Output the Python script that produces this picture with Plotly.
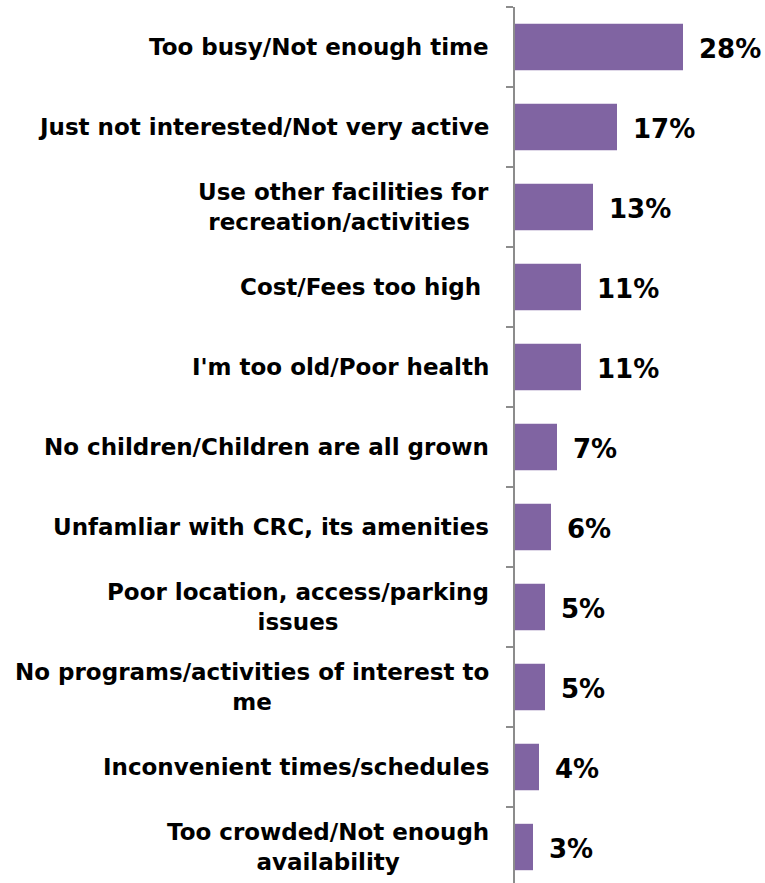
import plotly.graph_objects as go

# Reasons for not using the community recreation center
reasons = [
    "Too busy/Not enough time",
    "Just not interested/Not very active",
    "Use other facilities for<br>recreation/activities ",
    "Cost/Fees too high ",
    "I'm too old/Poor health",
    "No children/Children are all grown",
    "Unfamliar with CRC, its amenities",
    "Poor location, access/parking<br>issues",
    "No programs/activities of interest to<br>me",
    "Inconvenient times/schedules",
    "Too crowded/Not enough<br>availability",
]
shares = [28, 17, 13, 11, 11, 7, 6, 5, 5, 4, 3]
share_labels = ["28%", "17%", "13%", "11%", "11%", "7%", "6%", "5%", "5%", "4%", "3%"]

FONT = "DejaVu Sans"
BAR = "#8064A2"
AXIS = "#8c8c8c"

fig = go.Figure(
    go.Bar(
        x=shares,
        y=list(range(len(reasons))),
        orientation="h",
        marker=dict(color=BAR, line=dict(width=0)),
        width=0.58,
        hoverinfo="skip",
    )
)

# value labels to the right of each bar
for i, (v, t) in enumerate(zip(shares, share_labels)):
    fig.add_annotation(
        x=v, y=i, xref="x", yref="y", text=f"<b>{t}</b>",
        showarrow=False, xanchor="left", xshift=14, yshift=-2,
        font=dict(family=FONT, size=26, color="#000000"),
    )

# category labels, centred within a right-aligned block
for i, r in enumerate(reasons):
    fig.add_annotation(
        x=0, y=i, xref="paper", yref="y", text=f"<b>{r}</b>",
        showarrow=False, xanchor="right", xshift=-24, align="center",
        font=dict(family=FONT, size=23, color="#000000"),
    )

fig.update_layout(
    width=765, height=883,
    margin=dict(l=515, r=10, t=7, b=0),
    paper_bgcolor="white", plot_bgcolor="white",
    showlegend=False,
    xaxis=dict(range=[0, 40], visible=False, fixedrange=True),
    yaxis=dict(
        type="linear",
        range=[10.45, -0.5],
        tickmode="array",
        tickvals=[k - 0.5 for k in range(len(reasons) + 1)],
        ticktext=[""] * (len(reasons) + 1),
        ticks="outside", ticklen=7, tickwidth=1.5, tickcolor=AXIS,
        showline=True, linecolor=AXIS, linewidth=1.5,
        showgrid=False, zeroline=False, showticklabels=False,
    ),
)

fig.write_html("out.html")
